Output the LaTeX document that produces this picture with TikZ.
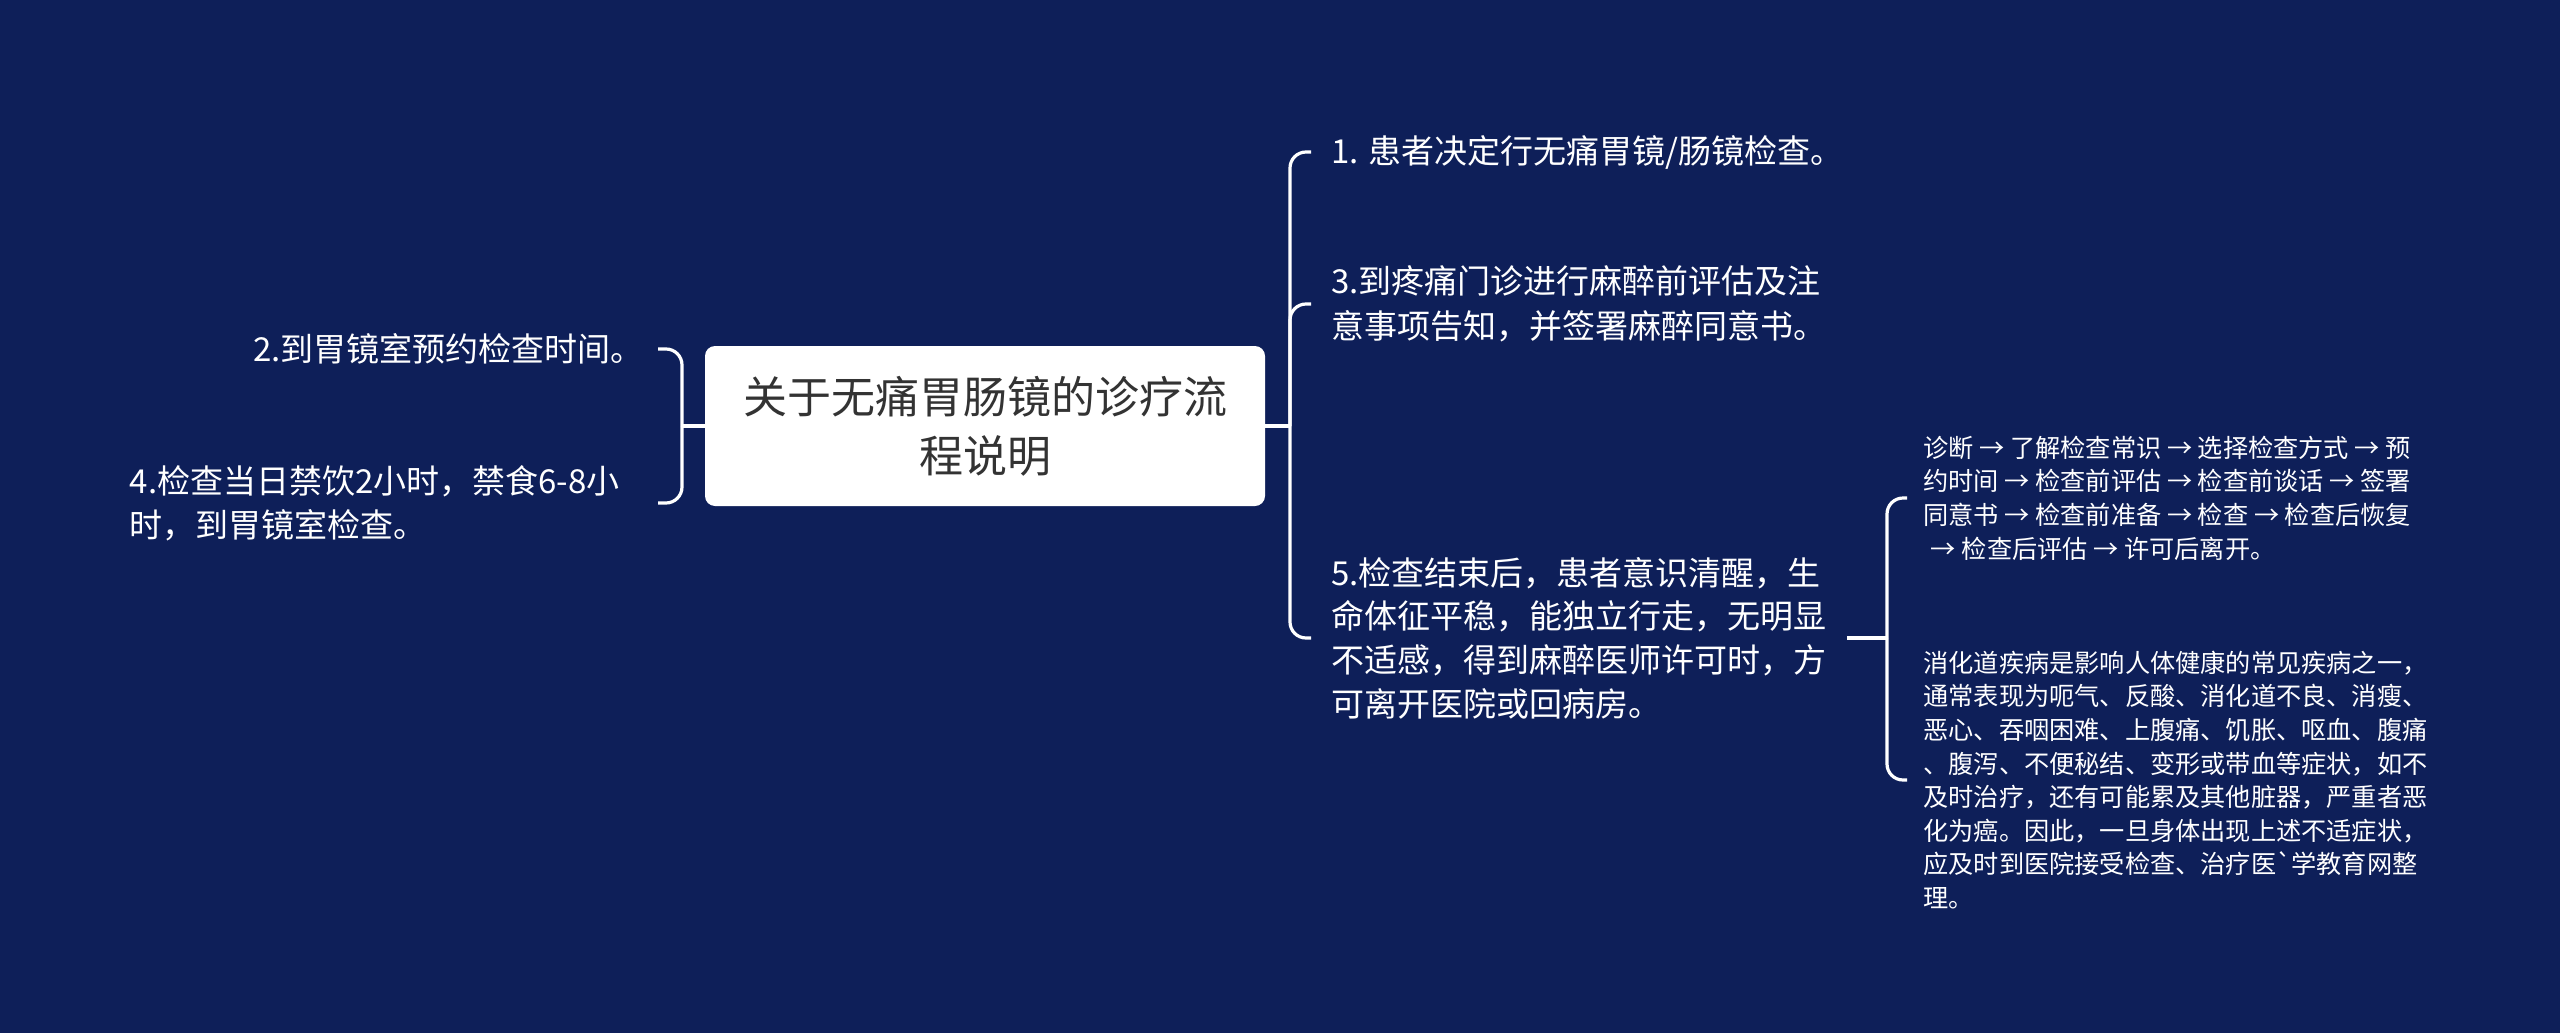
\documentclass[tikz,border=0pt]{standalone}
\usepackage{fontspec}
\setmainfont{Noto Sans CJK SC}
\usepackage{tikz}

\definecolor{navy}{RGB}{14,31,89}
\definecolor{titlegray}{RGB}{51,51,51}

\tikzset{
    branch/.style={draw=white, line width=1.6pt},
    elbow/.style={branch, rounded corners=8pt},
    leaf/.style={text=white, align=left, inner ysep=0pt, inner xsep=10pt,
        font=\fontsize{16.5}{22.5}\selectfont},
    smallleaf/.style={leaf, inner xsep=8pt, font=\fontsize{12.6}{16.8}\selectfont},
}

\begin{document}
\begin{tikzpicture}[x=0.5pt,y=-0.5pt]
    \fill[navy] (0,0) rectangle (2560,1033);

    % centre
    \node[fill=white, rounded corners=5pt, minimum width=280pt, minimum height=80pt,
        align=center, text=titlegray, font=\fontsize{22}{29.4}\selectfont]
        (title) at (985,426) {关于无痛胃肠镜的诊疗流\\程说明};

    % right side
    \node[leaf, anchor=west] (n1) at (1311,152) {1. 患者决定行无痛胃镜/肠镜检查。};
    \node[leaf, anchor=west] (n3) at (1311,304) {3.到疼痛门诊进行麻醉前评估及注\\意事项告知，并签署麻醉同意书。};
    \node[leaf, anchor=west, font=\fontsize{16.5}{21.8}\selectfont] (n5) at (1311,638)
        {5.检查结束后，患者意识清醒，生\\命体征平稳，能独立行走，无明显\\不适感，得到麻醉医师许可时，方\\可离开医院或回病房。};

    % left side
    \node[leaf, anchor=east, inner xsep=7pt] (n2) at (658,349) {2.到胃镜室预约检查时间。};
    \node[leaf, anchor=east, inner xsep=19pt, font=\fontsize{16.5}{22}\selectfont] (n4) at (658,503)
        {4.检查当日禁饮2小时，禁食6-8小\\时，到胃镜室检查。};

    % under 5
    \node[smallleaf, anchor=west] (sA) at (1907,498)
        {诊断 → 了解检查常识 → 选择检查方式 → 预\\约时间 → 检查前评估 → 检查前谈话 → 签署\\同意书 → 检查前准备 → 检查 → 检查后恢复\\\hspace*{0.3em}→ 检查后评估 → 许可后离开。};
    \node[smallleaf, anchor=west] (sB) at (1907,780)
        {消化道疾病是影响人体健康的常见疾病之一，\\通常表现为呃气、反酸、消化道不良、消瘦、\\恶心、吞咽困难、上腹痛、饥胀、呕血、腹痛\\、腹泻、不便秘结、变形或带血等症状，如不\\及时治疗，还有可能累及其他脏器，严重者恶\\化为癌。因此，一旦身体出现上述不适症状，\\应及时到医院接受检查、治疗医\textasciigrave 学教育网整\\理。};

    \coordinate (trunkR) at (1290,426);
    \coordinate (trunkL) at (682,426);
    \coordinate (trunkS) at (1887,638);

    \draw[branch] (title.east) -- (trunkR);
    \draw[branch] (title.west) -- (trunkL);
    \draw[branch] (n5.east) -- (trunkS);
    \foreach \n in {n1,n3,n5}
        \draw[elbow] (trunkR) |- (\n.west);
    \foreach \n in {n2,n4}
        \draw[elbow] (trunkL) |- (\n.east);
    \foreach \n in {sA,sB}
        \draw[elbow] (trunkS) |- (\n.west);
\end{tikzpicture}
\end{document}
